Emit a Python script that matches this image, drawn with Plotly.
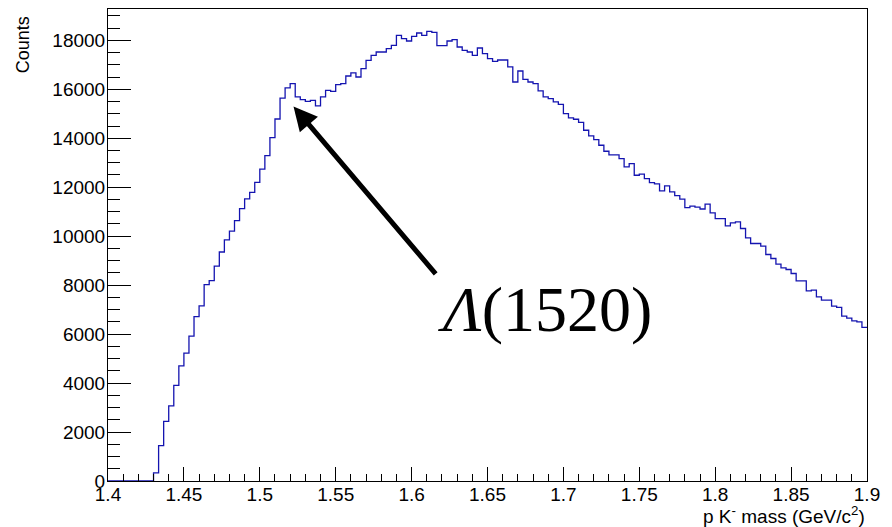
import numpy as np
import plotly.graph_objects as go

# ---- data ----
x_min, x_max, n_bins = 1.4, 1.9, 150
counts = [
    0, 0, 0, 0, 0, 0, 0, 0, 0, 330,
    1444, 2435, 3067, 3906, 4704, 5227, 5915, 6712, 7152, 8019,
    8184, 8776, 9354, 9849, 10206, 10633, 11128, 11527, 11788, 12201,
    12737, 13287, 14030, 14787, 15640, 16060, 16231, 15687, 15578, 15510,
    15551, 15320, 15687, 15959, 15918, 16190, 16231, 16544, 16667, 16503,
    16844, 17184, 17388, 17524, 17524, 17660, 17796, 18204, 18068, 17973,
    18163, 18299, 18204, 18367, 18327, 17782, 17782, 17973, 18027, 17728,
    17592, 17524, 17388, 17687, 17456, 17252, 17143, 17197, 17197, 16912,
    16299, 16748, 16408, 16299, 16231, 15932, 15687, 15619, 15483, 15388,
    15007, 14830, 14776, 14653, 14327, 14095, 13946, 13714, 13469, 13320,
    13320, 13170, 12830, 12966, 12490, 12531, 12354, 12190, 12136, 11850,
    12054, 11810, 11660, 11510, 11170, 11225, 11184, 11110, 11306, 10952,
    10721, 10721, 10422, 10544, 10585, 10313, 9932, 9701, 9701, 9592,
    9252, 9089, 8857, 8708, 8640, 8476, 8177, 8177, 7769, 7796,
    7524, 7388, 7388, 7143, 7089, 6735, 6653, 6544, 6503, 6272,
]
x_tickvals = [1.4, 1.45, 1.5, 1.55, 1.6, 1.65, 1.7, 1.75, 1.8, 1.85, 1.9]
x_ticktext = ["1.4", "1.45", "1.5", "1.55", "1.6", "1.65", "1.7", "1.75", "1.8", "1.85", "1.9"]
y_tickvals = [0, 2000, 4000, 6000, 8000, 10000, 12000, 14000, 16000, 18000]
y_ticktext = [str(v) for v in y_tickvals]
peak_label = "<i>Λ</i>(1520)"
peak_tip = (1.5222, 15300)
peak_tail = (1.6167, 8400)

edges = np.linspace(x_min, x_max, n_bins + 1)
ys = counts + [counts[-1]]

fig = go.Figure()
fig.add_trace(go.Scatter(
    x=edges, y=ys, mode="lines", line_shape="hv",
    line=dict(color="#1414b0", width=1.3), hoverinfo="skip", showlegend=False,
))

axis_font = dict(family="Liberation Sans, Arial, sans-serif", size=19, color="black")
fig.update_xaxes(
    range=[x_min, x_max], tickvals=x_tickvals, ticktext=x_ticktext,
    ticks="inside", ticklen=14, tickwidth=1, tickcolor="black",
    minor=dict(dtick=0.01, tick0=1.4, ticks="inside", ticklen=7, tickcolor="black", tickwidth=1),
    showline=True, linecolor="black", linewidth=1, mirror=True,
    showgrid=False, zeroline=False, tickfont=axis_font, ticklabelstandoff=-4,
)
fig.update_yaxes(
    range=[0, 19280], tickvals=y_tickvals, ticktext=y_ticktext,
    ticks="inside", ticklen=23, tickwidth=1, tickcolor="black",
    minor=dict(dtick=500, tick0=0, ticks="inside", ticklen=12, tickcolor="black", tickwidth=1),
    showline=True, linecolor="black", linewidth=1, mirror=True,
    showgrid=False, zeroline=False, tickfont=axis_font, ticklabelstandoff=-2,
)

fig.add_annotation(
    x=peak_tip[0], y=peak_tip[1], ax=peak_tail[0], ay=peak_tail[1],
    xref="x", yref="y", axref="x", ayref="y", text="",
    showarrow=True, arrowhead=2, arrowsize=0.95, arrowwidth=5, arrowcolor="black",
)
fig.add_annotation(
    x=1.6878, y=7020, xref="x", yref="y", text=peak_label, showarrow=False,
    font=dict(family="Liberation Serif, Times New Roman, serif", size=64, color="black"),
    xanchor="center", yanchor="middle",
)
fig.add_annotation(
    x=1.0, y=-0.072, xref="paper", yref="paper", xanchor="right", yanchor="middle",
    text="p K<sup>-</sup> mass (GeV/c<sup>2</sup>)", showarrow=False,
    font=dict(family="Liberation Sans, Arial, sans-serif", size=19, color="black"),
)
fig.add_annotation(
    x=-0.112, y=0.990, xref="paper", yref="paper", xanchor="center", yanchor="top",
    text="Counts", textangle=-90, showarrow=False,
    font=dict(family="Liberation Sans, Arial, sans-serif", size=18, color="black"),
)

# the page body adds an 8 px offset, so the figure is 8 px smaller each way
fig.update_layout(
    width=884, height=519,
    margin=dict(l=100, r=25, t=1, b=46),
    paper_bgcolor="white", plot_bgcolor="white",
)
fig.write_html("out.html")
